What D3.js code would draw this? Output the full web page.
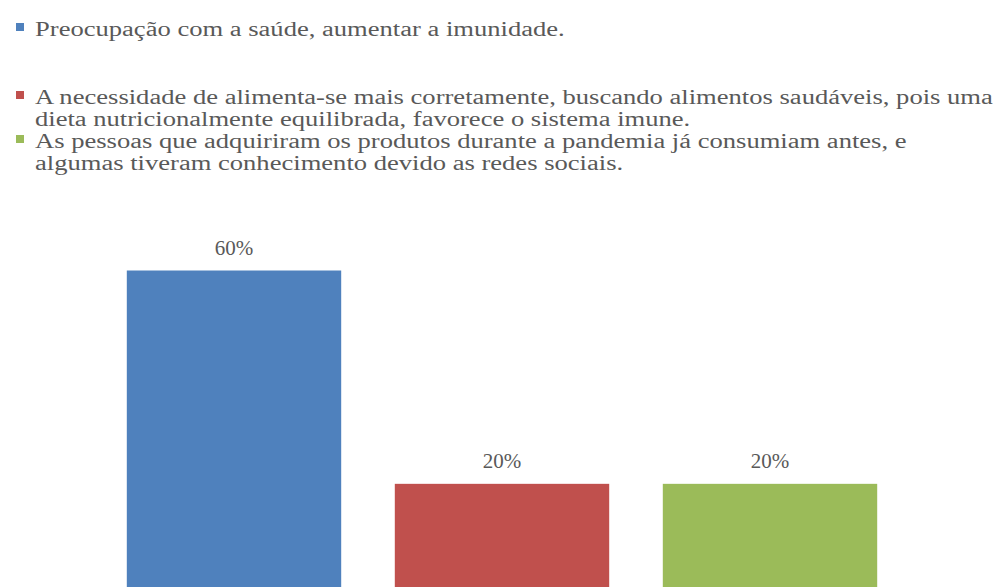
<!DOCTYPE html>
<html>
<head>
<meta charset="utf-8">
<script src="https://cdn.jsdelivr.net/npm/d3@7"></script>
<style>
  html, body { margin: 0; padding: 0; background: #fff; }
  svg { display: block; }
  svg text { font-family: "Liberation Serif", "Times New Roman", "DejaVu Serif", serif; }
</style>
</head>
<body>
<svg id="chart" width="1008" height="587"></svg>
<script>
// Legend text, one array of wrapped lines per category
const categoryLines = [
  ["Preocupação com a saúde, aumentar a imunidade."],
  ["A necessidade de alimenta-se mais corretamente, buscando alimentos saudáveis, pois uma",
   "dieta nutricionalmente equilibrada, favorece o sistema imune."],
  ["As pessoas que adquiriram os produtos durante a pandemia já consumiam antes, e",
   "algumas tiveram conhecimento devido as redes sociais."]
];
const categories = categoryLines.map(l => l.join(" "));
const values = [0.60, 0.20, 0.20];
const colors = ["#4F81BD", "#C0504D", "#9BBB59"];

const svg = d3.select("#chart");
const textColor = "#595959";

// Bars
const x = d3.scaleBand().domain(categories).range([100, 904]).paddingInner(0.2).paddingOuter(0.1);
const y = d3.scaleLinear().domain([0, 0.6]).range([590.5, 270.5]);
const fmt = d3.format(".0%");

svg.append("g").selectAll("rect")
  .data(categories)
  .join("rect")
  .attr("x", d => x(d))
  .attr("width", x.bandwidth())
  .attr("y", (d, i) => y(values[i]))
  .attr("height", (d, i) => y(0) - y(values[i]))
  .attr("fill", (d, i) => colors[i]);

svg.append("g").selectAll("text")
  .data(categories)
  .join("text")
  .attr("x", d => x(d) + x.bandwidth() / 2)
  .attr("y", (d, i) => y(values[i]) - 16)
  .attr("text-anchor", "middle")
  .attr("font-size", 21)
  .attr("fill", textColor)
  .text((d, i) => fmt(values[i]));

// Legend
const legendX = 16, textX = 35, lineH = 22;
const itemBaselines = [36, 104, 148];
const legend = svg.append("g");
const lineNodes = [];
categoryLines.forEach((lines, i) => {
  const base = itemBaselines[i];
  legend.append("rect")
    .attr("x", legendX).attr("y", base - 13)
    .attr("width", 8).attr("height", 8)
    .attr("fill", colors[i]);
  lines.forEach((ln, j) => {
    const t = legend.append("text")
      .attr("font-size", 20)
      .attr("fill", textColor)
      .attr("data-y", base + j * lineH)
      .text(ln);
    lineNodes.push(t);
  });
});
// horizontal stretch so the widest line spans the legend width
const ref = lineNodes[1].node().getComputedTextLength();
const sx = (993 - textX) / ref;
lineNodes.forEach(t => {
  t.attr("transform", `translate(${textX},${t.attr("data-y")}) scale(${sx},1)`);
});
</script>
</body>
</html>
